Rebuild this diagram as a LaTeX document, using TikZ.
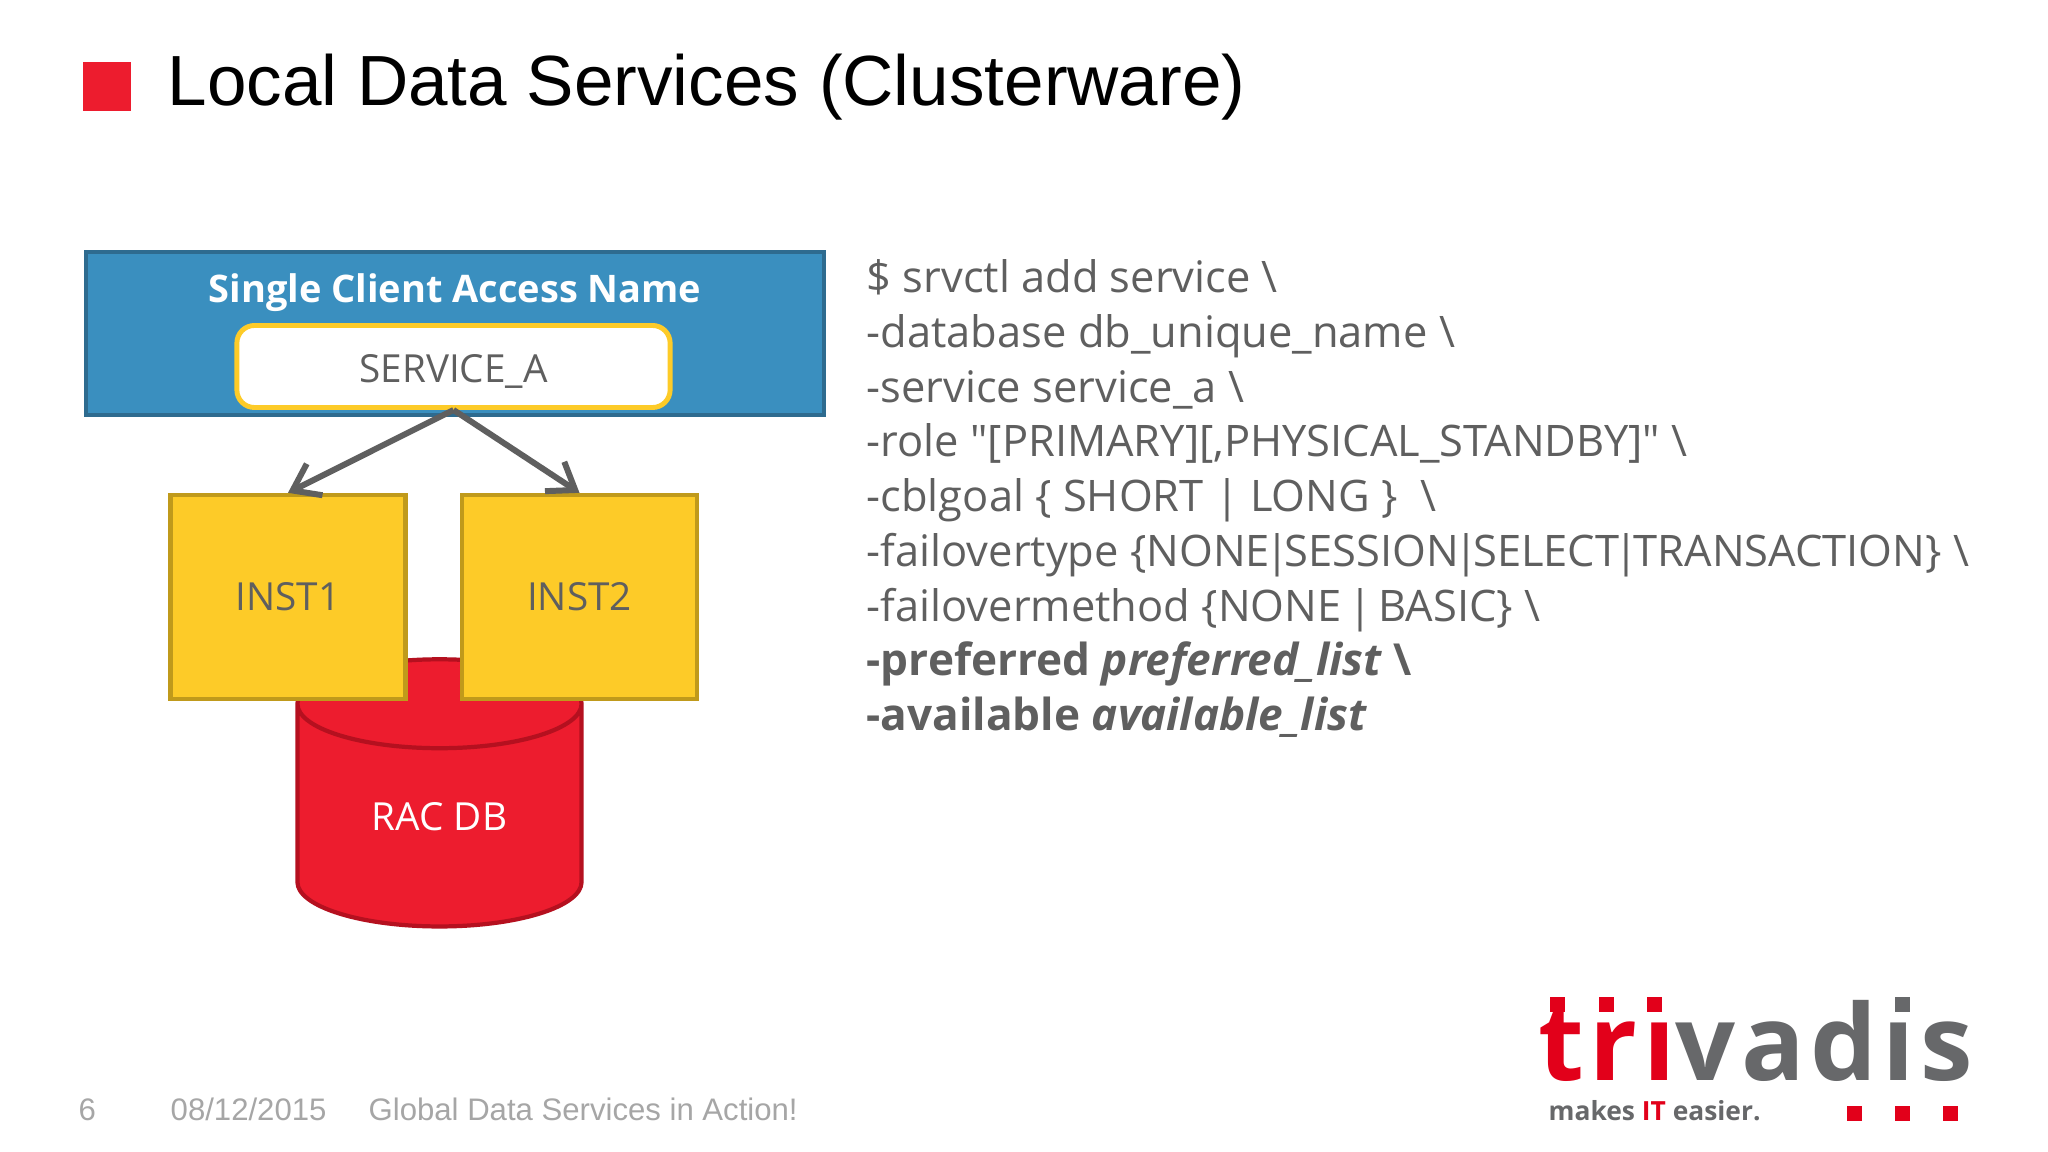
\documentclass[tikz,border=0pt]{standalone}
\usepackage{fontspec}
\setmainfont{Open Sans}
\newfontfamily\arialfont{Liberation Sans}
\newfontfamily\cmdfont{Open Sans}
\usetikzlibrary{arrows.meta,shapes.geometric}
\definecolor{slidered}{HTML}{ED1C2E}
\definecolor{darkred}{HTML}{B5101F}
\definecolor{scanblue}{HTML}{3A8FBF}
\definecolor{scanedge}{HTML}{2E6B8F}
\definecolor{instyellow}{HTML}{FDCB28}
\definecolor{instedge}{HTML}{C09A1B}
\definecolor{textgray}{HTML}{5F5F5F}
\definecolor{footgray}{HTML}{A6A6A6}
\definecolor{logored}{HTML}{E2001A}
\definecolor{logogray}{HTML}{67686A}
\newcommand{\pipe}{\kern-.11em|\kern-.11em}
\tikzset{
  inst/.style={draw=instedge, fill=instyellow, line width=1.2pt, minimum width=2.35cm, minimum height=2.04cm, text=textgray, font=\fontsize{11}{13}\selectfont},
  dot/.style={fill=logored, minimum size=0.15cm, inner sep=0pt},
  foot/.style={anchor=base west, text=footgray, inner sep=0pt, font=\arialfont\fontsize{8.85}{11}\selectfont},
  link/.style={draw=textgray, line width=1.7pt, -{Straight Barb[length=7pt,width=10pt]}}
}
\begin{document}
\begin{tikzpicture}[x=0.01cm,y=-0.01cm]
    \useasboundingbox[fill=white] (0,0) rectangle (2048,1152);

    % title
    \node[fill=slidered, minimum width=0.48cm, minimum height=0.49cm, inner sep=0pt] (mark) at (107,86.5) {};
    \node[anchor=base west, inner sep=0pt, font=\arialfont\fontsize{20.2}{24}\selectfont] (title) at (167,106) {Local Data Services (Clusterware)};

    % scan box
    \node[draw=scanedge, fill=scanblue, line width=1.2pt, minimum width=7.38cm, minimum height=1.63cm] (scan) at (455,333.5) {};
    \node[text=white, font=\bfseries\fontsize{10.8}{13}\selectfont] (scanname) at (455,293) {Single Client Access Name};
    \node[draw=instyellow, fill=white, line width=1.4pt, rounded corners=5pt, minimum width=4.33cm, minimum height=0.82cm, text height=9pt, text depth=0pt, text=textgray, font=\fontsize{11}{13}\selectfont] (svc) at (453.5,366.5) {SERVICE\_A};

    % database
    \node[cylinder, shape border rotate=90, shape aspect=0.56, draw=darkred, fill=slidered, line width=1.2pt, minimum width=2.84cm, minimum height=2.67cm, text height=8pt, text depth=4.8pt, text=white, font=\fontsize{11}{13}\selectfont] (db) at (439.5,825) {RAC DB};

    % instances
    \node[inst] (inst1) at (288,597) {INST1};
    \node[inst] (inst2) at (579.5,597) {INST2};

    \draw[link] (svc.south)--(inst1.north);
    \draw[link] (svc.south)--(inst2.north);

    % command
    \node[anchor=north west, align=left, inner sep=0pt, text=textgray, font=\cmdfont\fontsize{12.35}{15.56}\selectfont] (cmd) at (866,259) {%
      \$ srvctl add service \textbackslash\\
      -database db\_unique\_name \textbackslash\\
      -service service\_a \textbackslash\\
      -role "[PRIMARY][,PHYSICAL\_STANDBY]" \textbackslash\\
      -cblgoal \{ SHORT | LONG \}~~\textbackslash\\
      -failovertype \{NONE\pipe SESSION\pipe SELECT\pipe TRANSACTION\} \textbackslash\\
      -failovermethod \{NONE \pipe{} BASIC\} \textbackslash\\
      {\fontsize{12.55}{15.56}\selectfont\textbf{-preferred \textit{preferred\_list} \textbackslash}}\\
      {\fontsize{12.55}{15.56}\selectfont\textbf{-available \textit{available\_list}}}};

    % footer
    \node[foot] (page) at (78,1120) {6};
    \node[foot] (date) at (170,1120) {08/12/2015};
    \node[foot] (talk) at (368,1120) {Global Data Services in Action!};

    % logo
    \node[anchor=base west, inner sep=0pt, font=\cmdfont\bfseries\fontsize{30}{32}\selectfont\addfontfeature{LetterSpace=5.2}] (logo) at (1538,1080) {\textcolor{logored}{trı}\textcolor{logogray}{vadıs}};
    \node[dot] (tdot) at (1557.5,1004.5) {};
    \node[dot] (rdot) at (1606,1004.5) {};
    \node[dot] (idot) at (1654.5,1004.5) {};
    \node[dot, fill=logogray] (gdot) at (1902.5,1004.5) {};
    \node[anchor=base west, inner sep=0pt, text=logogray, font=\bfseries\fontsize{7.5}{10}\selectfont] (claim) at (1548,1120) {makes \textcolor{logored}{IT} easier.};
    \node[dot] (dota) at (1854,1113) {};
    \node[dot] (dotb) at (1902.5,1113) {};
    \node[dot] (dotc) at (1950.5,1113) {};
\end{tikzpicture}
\end{document}
